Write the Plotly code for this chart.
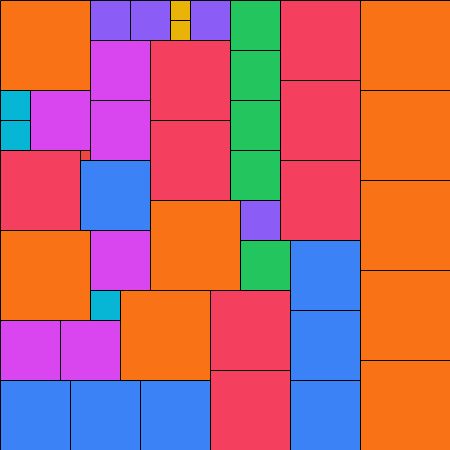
import plotly.graph_objects as go

# Partridge-style square packing: side = 10 * n, n squares of each size n
sizes = [9, 8, 7, 6, 5, 4, 3, 2, 1]
colors = ["#F97316", "#F43F5E", "#3B82F6", "#D946EF", "#22C55E",
          "#8B5CF6", "#06B6D4", "#EAB308", "#EF4444"]

# top-left corners (x, y) of each square, grouped by size
corners = {
    9: [(0, 0), (0, 230), (150, 200), (120, 290), (360, 0), (360, 90),
        (360, 180), (360, 270), (360, 360)],
    8: [(0, 150), (150, 40), (150, 120), (280, 0), (280, 80), (280, 160),
        (210, 290), (210, 370)],
    7: [(80, 160), (0, 380), (70, 380), (140, 380), (290, 240), (290, 310),
        (290, 380)],
    6: [(30, 90), (90, 40), (90, 100), (90, 230), (0, 320), (60, 320)],
    5: [(230, 0), (230, 50), (230, 100), (230, 150), (240, 240)],
    4: [(90, 0), (130, 0), (190, 0), (240, 200)],
    3: [(0, 90), (0, 120), (90, 290)],
    2: [(170, 0), (170, 20)],
    1: [(80, 150)],
}
unit = 10
total = 450

fig = go.Figure()
for n, col in zip(sizes, colors):
    xs, ys = [], []
    s = n * unit
    for (x0, y0) in corners[n]:
        xs += [x0, x0 + s, x0 + s, x0, x0, None]
        ys += [y0, y0, y0 + s, y0 + s, y0, None]
    fig.add_trace(go.Scatter(
        x=xs, y=ys, mode="lines", fill="toself", fillcolor=col,
        line=dict(color="#000000", width=1), hoverinfo="skip",
        showlegend=False, name=f"{s}x{s}"))

fig.update_layout(
    width=450, height=450,
    margin=dict(l=0, r=0, t=0, b=0),
    paper_bgcolor="white", plot_bgcolor="white",
    xaxis=dict(range=[-0.5, total - 0.5], visible=False, fixedrange=True),
    yaxis=dict(range=[total - 0.5, -0.5], visible=False, fixedrange=True),
)
fig.write_html(
    "out.html",
    config={"displayModeBar": False},
    post_script="document.body.style.margin='0';document.body.style.overflow='hidden';",
)
